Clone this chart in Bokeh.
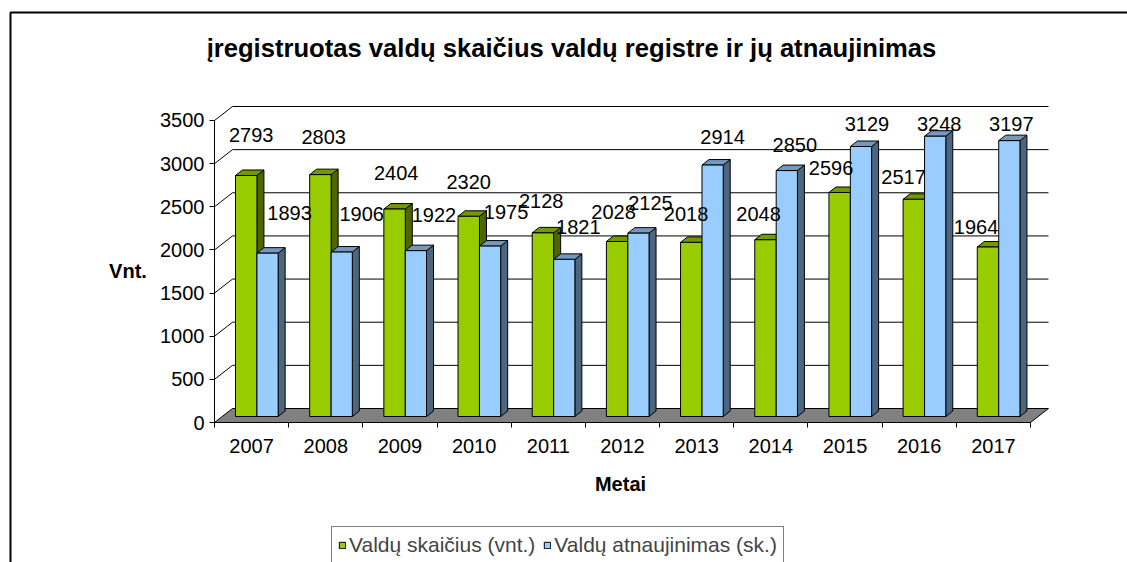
import numpy as np
from bokeh.plotting import figure
from bokeh.models import Range1d, LinearAxis, FixedTicker, Legend, LegendItem
from bokeh.core.properties import value
from bokeh.embed import file_html
from bokeh.resources import INLINE

# ---------------- data ----------------
YEARS = ["2007", "2008", "2009", "2010", "2011", "2012", "2013", "2014", "2015", "2016", "2017"]
VALDU_SKAICIUS = [2793, 2803, 2404, 2320, 2128, 2028, 2018, 2048, 2596, 2517, 1964]
VALDU_ATNAUJINIMAS = [1893, 1906, 1922, 1975, 1821, 2125, 2914, 2850, 3129, 3248, 3197]
Y_TICKS = [0, 500, 1000, 1500, 2000, 2500, 3000, 3500]
SERIES_NAMES = ["Valdų skaičius (vnt.)", "Valdų atnaujinimas (sk.)"]
TITLE = "įregistruotas valdų skaičius valdų registre ir jų atnaujinimas"
X_TITLE = "Metai"
Y_TITLE = "Vnt."

# ---------------- layout ----------------
W, H = 1127, 562
PX_PER_CAT = 74.18          # pixels per category
UNITS_PER_PX = 11.589       # value units per pixel
ORIGIN_X = 214              # canvas px from left where x = 0
ORIGIN_Y = 140              # canvas px from bottom where y = 0
FONT = "Liberation Sans"

def px(d):
    return d / PX_PER_CAT

def py(d):
    return d * UNITS_PER_PX

def page_x(x):
    return (x - ORIGIN_X) / PX_PER_CAT

def page_y(y):
    return (H - y - ORIGIN_Y) * UNITS_PER_PX

n = len(YEARS)
idx = np.arange(n)
g_vals = np.array(VALDU_SKAICIUS, dtype=float)
b_vals = np.array(VALDU_ATNAUJINIMAS, dtype=float)

x_start, x_end = -ORIGIN_X / PX_PER_CAT, (W - ORIGIN_X) / PX_PER_CAT
y_start, y_end = -ORIGIN_Y * UNITS_PER_PX, (H - ORIGIN_Y) * UNITS_PER_PX
p = figure(width=W, height=H, output_backend="svg", toolbar_location=None, tools="",
           x_range=Range1d(x_start, x_end), y_range=Range1d(y_start, y_end),
           x_axis_location=None, y_axis_location=None, min_border=0)
p.grid.visible = False
p.outline_line_color = None
p.background_fill_color = "white"
p.border_fill_color = "white"

# 3D geometry
WX, WY = px(18), py(14)      # back wall offset
BASE = py(6)                 # bar base above front axis
DX, DY = px(7), py(5.5)      # bar depth
G0, G1, B1 = 0.283, 0.572, 0.858

# outer chart border (left + top visible)
bx, by = page_x(10), page_y(12)
p.line([bx, bx, x_end + 1], [y_start - 500, by, by], line_color="black", line_width=2)

# floor
p.patch([0, n, n + WX, WX], [0, 0, WY, WY], fill_color="#808080", line_color="black", line_width=1)

# back wall grid lines with left wall diagonals
gx = [[0, WX, n + WX] for v in Y_TICKS[1:]]
gy = [[v, v + WY, v + WY] for v in Y_TICKS[1:]]
p.multi_line(gx, gy, line_color="black", line_width=1)


def draw_bars(x0, x1, vals, front, topc, side):
    l = idx + x0
    r = idx + x1
    t = BASE + vals
    sx = [[ri, ri + DX, ri + DX, ri] for ri in r]
    sy = [[BASE, BASE + DY, ti + DY, ti] for ti in t]
    p.patches(sx, sy, fill_color=side, line_color="black", line_width=1)
    tx = [[li, ri, ri + DX, li + DX] for li, ri in zip(l, r)]
    ty = [[ti, ti, ti + DY, ti + DY] for ti in t]
    p.patches(tx, ty, fill_color=topc, line_color="black", line_width=1)
    return p.quad(left=l, right=r, bottom=BASE, top=t, fill_color=front,
                  line_color="black", line_width=1)


g_front = draw_bars(G0, G1, g_vals, "#99CC00", "#739900", "#4D6600")
b_front = draw_bars(G1, B1, b_vals, "#99CCFF", "#7399BF", "#4D6680")

# data labels
cap = page_y(123)
lx_g = idx + (G0 + G1) / 2 + px(5 - 1.7 * idx)
lx_b = idx + (G1 + B1) / 2 + px(22 - 2.0 * idx)
ly_g = np.minimum(BASE + g_vals + py(40 - 2.0 * idx), cap)
ly_b = np.minimum(BASE + b_vals + py(40 - 2.0 * idx), cap)
lab_kw = dict(text_font=value(FONT), text_font_size="20px", text_align="center",
              text_baseline="middle", text_color="black")
p.text(x=lx_g, y=ly_g, text=[str(int(v)) for v in VALDU_SKAICIUS], **lab_kw)
p.text(x=lx_b, y=ly_b, text=[str(int(v)) for v in VALDU_ATNAUJINIMAS], **lab_kw)

# titles
p.text(x=[page_x(571)], y=[page_y(47)], text=[TITLE], text_font=value(FONT),
       text_font_size="25.6px", text_font_style="bold", text_align="center",
       text_baseline="middle", text_color="black")
p.text(x=[page_x(127.5)], y=[page_y(270)], text=[Y_TITLE], text_font=value(FONT),
       text_font_size="20px", text_font_style="bold", text_align="center",
       text_baseline="middle", text_color="black")
p.text(x=[page_x(620)], y=[page_y(483)], text=[X_TITLE], text_font=value(FONT),
       text_font_size="20px", text_font_style="bold", text_align="center",
       text_baseline="middle", text_color="black")

# axes
yaxis = LinearAxis(fixed_location=0, bounds=(Y_TICKS[0], Y_TICKS[-1]),
                   ticker=FixedTicker(ticks=Y_TICKS, minor_ticks=[]),
                   major_tick_in=0, major_tick_out=5, minor_tick_in=0, minor_tick_out=0,
                   major_label_standoff=5, major_label_text_font=FONT,
                   major_label_text_font_size="20px", major_label_text_color="black",
                   axis_line_color="black", major_tick_line_color="black")
p.add_layout(yaxis, "left")

centers = [float(i) + 0.5 for i in idx]
xaxis = LinearAxis(fixed_location=0, bounds=(0, n),
                   ticker=FixedTicker(ticks=centers, minor_ticks=[float(i) for i in range(n + 1)]),
                   major_label_overrides={c: y for c, y in zip(centers, YEARS)},
                   major_tick_in=0, major_tick_out=0, minor_tick_in=0, minor_tick_out=5,
                   minor_tick_line_color="black", major_label_standoff=11,
                   major_label_text_font=FONT, major_label_text_font_size="20px",
                   major_label_text_color="black", axis_line_color="black")
p.add_layout(xaxis, "below")

legend = Legend(items=[LegendItem(label=SERIES_NAMES[0], renderers=[g_front]),
                       LegendItem(label=SERIES_NAMES[1], renderers=[b_front])],
                orientation="horizontal", location=(331, -2),
                border_line_color="black", border_line_width=1,
                background_fill_color="white", background_fill_alpha=1.0,
                label_text_font=FONT, label_text_font_size="21px",
                glyph_width=8, glyph_height=8, label_standoff=3, spacing=8,
                padding=6, margin=0)
p.add_layout(legend)

open("out.html", "w").write(file_html(p, INLINE))
